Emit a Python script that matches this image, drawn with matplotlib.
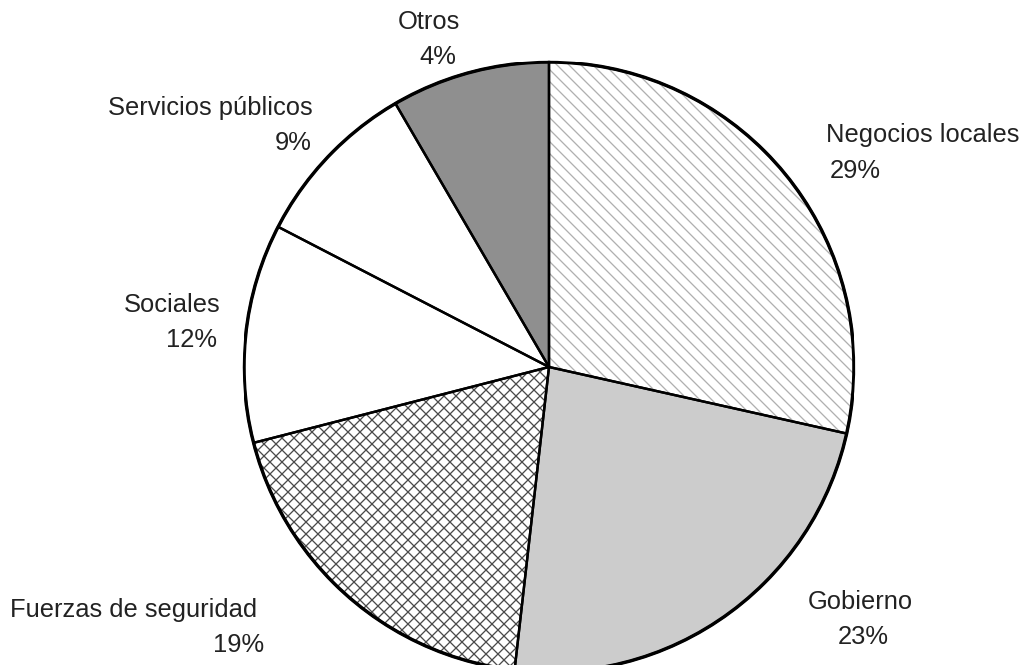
import matplotlib
matplotlib.use('Agg')
import matplotlib.pyplot as plt

# data (slice sizes as drawn, percent text as printed)
categories = ['Negocios locales', 'Gobierno', 'Fuerzas de seguridad', 'Sociales',
              'Servicios públicos', 'Otros']
sizes = [28.5, 23.3, 19.2, 11.6, 9.0, 8.4]
pct_labels = ['29%', '23%', '19%', '12%', '9%', '4%']

# styling per slice
fills = ['white', '#cccccc', 'white', 'white', 'white', '#8f8f8f']
hatches = ['\\\\', '', 'xx', '', '', '']
hatch_cols = ['#b0b0b0', '#cccccc', '#4a4a4a', 'white', 'white', '#8f8f8f']

# label positions in pixels (left x, center y) for name and percent lines
name_pos = [(826, 135), (808, 602), (10, 610), (124, 305), (108, 108), (398, 22)]
pct_pos = [(830, 171), (838, 637), (213, 645), (166, 340), (275, 143), (419, 57)]

W, H = 1026, 665
DPI = 72
plt.rcParams['font.family'] = ['Liberation Sans', 'DejaVu Sans']
plt.rcParams['hatch.linewidth'] = 1.3

fig = plt.figure(figsize=(W / DPI, H / DPI), dpi=DPI)
cx, cy, r = 549, 367, 305
ax = fig.add_axes([(cx - r) / W, (H - cy - r) / H, 2 * r / W, 2 * r / H])

# fills + hatching (hatch takes the edge colour)
wedges, _ = ax.pie(sizes, startangle=90, counterclock=False, radius=1)
for w, fc, h, hc in zip(wedges, fills, hatches, hatch_cols):
    w.set_facecolor(fc)
    w.set_hatch(h)
    w.set_edgecolor(hc)
    w.set_linewidth(0)

# outlines on top
outl, _ = ax.pie(sizes, startangle=90, counterclock=False, radius=1,
                 wedgeprops=dict(fill=False, edgecolor='black', linewidth=2.4))
circ = plt.Circle((0, 0), 1, fill=False, edgecolor='black', linewidth=3.4)
ax.add_patch(circ)

ax.set_xlim(-1, 1)
ax.set_ylim(-1, 1)
ax.set_aspect('equal')
ax.axis('off')

for name, pct, (nx, ny), (px, py) in zip(categories, pct_labels, name_pos, pct_pos):
    fig.text(nx / W, 1 - ny / H, name, ha='left', va='center', fontsize=25.5, color='#222222')
    fig.text(px / W, 1 - py / H, pct, ha='left', va='center', fontsize=25.5, color='#222222')

fig.savefig('out.png', dpi=DPI)
